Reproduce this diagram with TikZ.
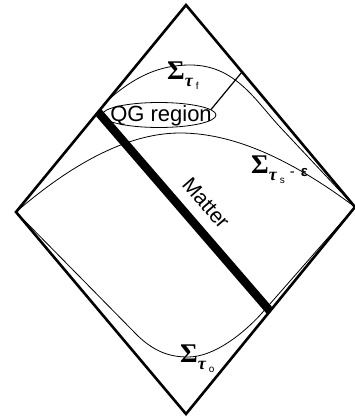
\documentclass[tikz,border=0pt]{standalone}
\usepackage{fontspec}
\setmainfont{Liberation Serif}
\setsansfont{Liberation Sans}
\usetikzlibrary{shapes.geometric}
\tikzset{
  edge/.style={line width=2.6pt, line join=miter},
  slice/.style={line width=0.8pt},
  matter/.style={line width=8.5pt},
  lbl/.style={inner sep=0pt, anchor=base west},
}
\newcommand{\sigtau}[2]{{\fontsize{27}{27}\selectfont\bfseries Σ}%
  \raisebox{-7pt}{\fontsize{18}{18}\selectfont\bfseries\itshape τ}\hspace{3pt}%
  \raisebox{-10pt}{\sffamily\fontsize{10}{10}\selectfont #1}#2}

\begin{document}
\begin{tikzpicture}[x=1pt, y=-1pt]
        \useasboundingbox (0,0) rectangle (354,417);

        % Corners
        \coordinate (top) at (186,5);
        \coordinate (left) at (16,212);
        \coordinate (right) at (355,207);
        \coordinate (bottom) at (186,414);
        \coordinate (mtop) at (90,102.7);
        \coordinate (mbot) at (278,320.3);
        \coordinate (nullend) at (242,72);

        % Slices
        \draw [slice] (107,101) .. controls (135,76) and (160,65) .. (190,65)
              .. controls (235,65) and (255,100) .. (280,127) -- (right);
        \draw [slice] (left) .. controls (60,174) and (120,133) .. (180,133)
              .. controls (240,133) and (300,166) .. (right);
        \draw [slice] (left) -- (138,336) .. controls (155,352) and (170,357) .. (188,357)
              .. controls (215,357) and (245,332) .. (262,313) -- (right);

        % Matter
        \begin{scope}
          \clip (top) -- (right) -- (bottom) -- (left) -- cycle;
          \draw [matter] (mtop) -- (mbot);
        \end{scope}
        \draw [edge] (top) -- (right) -- (bottom) -- (left) -- cycle;

        % QG region
        \node (qg) [draw, ellipse, minimum width=114pt, minimum height=25pt, inner sep=0pt, line width=0.8pt] at (159,115) {};
        \node (qgtext) [font=\sffamily\fontsize{22}{22}\selectfont, inner sep=0pt] at (161,116) {QG region};
        \draw [line width=1.2pt] (qg.6) -- (nullend);

        % Labels
        \node (mlabel) [font=\sffamily\fontsize{21}{21}\selectfont, rotate=-49, inner sep=0pt] at (206,203) {Matter};
        \node (sigf) [lbl] at (167,80) {\sigtau{f}{}};
        \node (sigs) [lbl] at (251,173) {\sigtau{s}{\hspace{5pt}\raisebox{-3pt}{\sffamily\fontsize{15}{15}\selectfont -\hspace{6pt}\bfseries ε}}};
        \node (sigo) [lbl] at (180,362) {\sigtau{o}{}};

    \end{tikzpicture}
\end{document}
